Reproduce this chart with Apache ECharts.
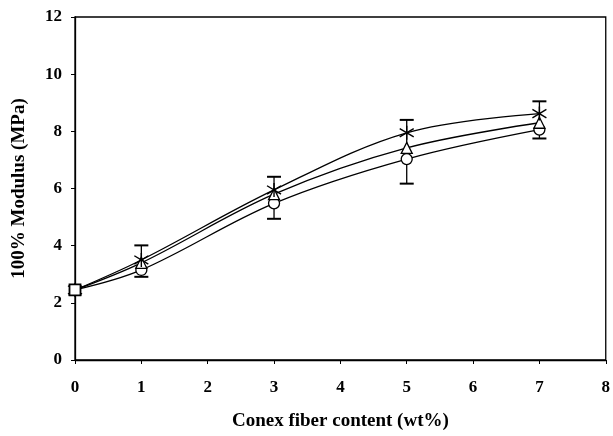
<!DOCTYPE html>
<html><head><meta charset="utf-8">
<script src="https://cdn.jsdelivr.net/npm/echarts@6/dist/echarts.min.js"></script>
<style>html,body{margin:0;padding:0;background:#fff}#c{width:613px;height:436px}</style>
</head><body><div id="c"></div>
<script>
const fiberContent = [0, 1, 3, 5, 7];
const starSeries = [2.45, 3.5, 5.95, 7.95, 8.62];
const triangleSeries = [2.45, 3.4, 5.8, 7.42, 8.3];
const circleSeries = [2.45, 3.15, 5.48, 7.03, 8.06];
const controlValue = [2.45];
const errLow = [null, 2.91, 4.94, 6.17, 7.75];
const errHigh = [null, 4.01, 6.41, 8.4, 9.05];
const xTicks = [0,1,2,3,4,5,6,7,8];
const yTicks = [0,2,4,6,8,10,12];

const font = '"Liberation Serif", "Times New Roman", serif';
const pair = (xs, ys) => xs.map((x, i) => [x, ys[i]]);
const asterisk = 'path://M0,-10L0,10M-8.66,-6L8.66,6M-8.66,6L8.66,-6';

const lineBase = {
  type: 'line', smooth: 0.35, symbolSize: 11, showAllSymbol: true,
  lineStyle: {color: '#000', width: 1.3},
  itemStyle: {color: '#fff', borderColor: '#000', borderWidth: 1.3, opacity: 1},
  emphasis: {disabled: true},
  z: 3
};
const errData = fiberContent.map((x, i) => [x, errLow[i], errHigh[i]]).filter(d => d[1] != null);

const chart = echarts.init(document.getElementById('c'));
chart.setOption({
  animation: false,
  backgroundColor: '#fff',
  grid: {left: 75, right: 6, top: 17, bottom: 69, show: true, borderColor: '#000', borderWidth: 1.3, backgroundColor: 'transparent'},
  xAxis: {
    type: 'value', min: 0, max: 8, interval: 1,
    name: 'Conex fiber content (wt%)', nameLocation: 'middle', nameGap: 52,
    nameTextStyle: {fontFamily: font, fontWeight: 'bold', fontSize: 19, color: '#000'},
    axisLine: {lineStyle: {color: '#000', width: 1.3}},
    axisTick: {show: true, length: 4, lineStyle: {color: '#000'}},
    axisLabel: {fontFamily: font, fontWeight: 'bold', fontSize: 17, color: '#000', margin: 19,
      formatter: v => xTicks.includes(v) ? String(v) : ''},
    splitLine: {show: false}
  },
  yAxis: {
    type: 'value', min: 0, max: 12, interval: 2,
    name: '100% Modulus (MPa)', nameLocation: 'middle', nameGap: 46,
    nameTextStyle: {fontFamily: font, fontWeight: 'bold', fontSize: 19, color: '#000'},
    axisLine: {show: true, lineStyle: {color: '#000', width: 1.3}},
    axisTick: {show: true, length: 4, lineStyle: {color: '#000'}},
    axisLabel: {fontFamily: font, fontWeight: 'bold', fontSize: 17, color: '#000', margin: 13,
      formatter: v => yTicks.includes(v) ? String(v) : ''},
    splitLine: {show: false}
  },
  series: [
    {
      type: 'custom', z: 2,
      renderItem: (params, api) => {
        const x = api.value(0);
        const lo = api.coord([x, api.value(1)]);
        const hi = api.coord([x, api.value(2)]);
        const w = 7;
        const st = {stroke: '#000', lineWidth: 1.3};
        return {type: 'group', children: [
          {type: 'line', shape: {x1: lo[0], y1: lo[1], x2: hi[0], y2: hi[1]}, style: st},
          {type: 'line', shape: {x1: lo[0]-w, y1: lo[1], x2: lo[0]+w, y2: lo[1]}, style: {stroke:'#000', lineWidth: 2}},
          {type: 'line', shape: {x1: hi[0]-w, y1: hi[1], x2: hi[0]+w, y2: hi[1]}, style: {stroke:'#000', lineWidth: 2}}
        ]};
      },
      encode: {x: 0, y: [1, 2]},
      data: errData
    },
    Object.assign({}, lineBase, {name: 'circle', symbol: 'circle', data: pair(fiberContent, circleSeries)}),
    Object.assign({}, lineBase, {name: 'triangle', symbol: 'triangle', data: pair(fiberContent, triangleSeries)}),
    Object.assign({}, lineBase, {name: 'star', symbol: asterisk, symbolSize: 14,
      itemStyle: {color: 'none', borderColor: '#000', borderWidth: 1.4, opacity: 1},
      data: pair(fiberContent, starSeries)}),
    {type: 'scatter', symbol: 'rect', symbolSize: 11, z: 4,
      itemStyle: {color: '#fff', borderColor: '#000', borderWidth: 1.8, opacity: 1},
      emphasis: {disabled: true},
      data: pair([0], controlValue)}
  ]
});
</script></body></html>
